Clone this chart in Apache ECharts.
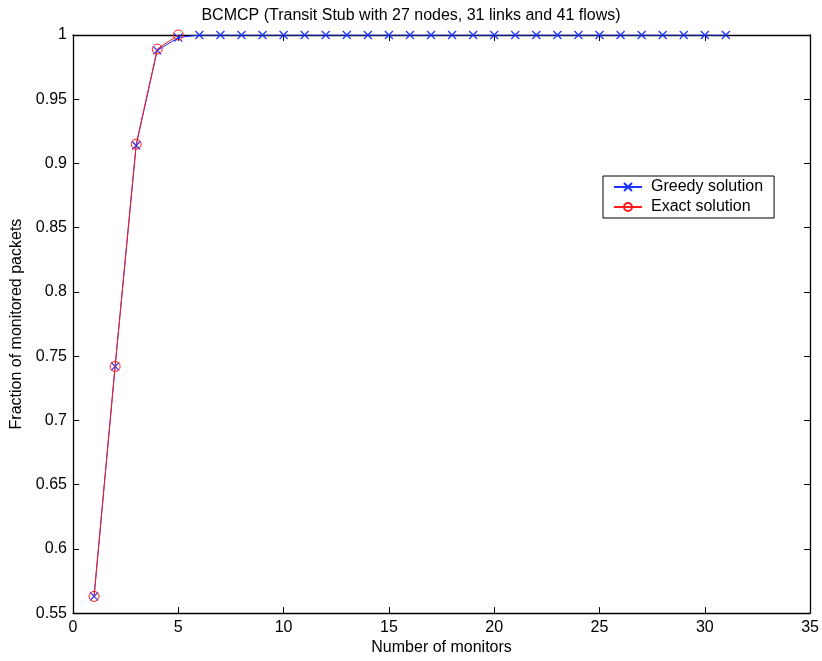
<!DOCTYPE html>
<html><head><meta charset="utf-8">
<script src="https://cdn.jsdelivr.net/npm/echarts@6/dist/echarts.min.js"></script>
<style>html,body{margin:0;padding:0;background:#fff;overflow:hidden}#c{width:822px;height:661px}</style>
</head><body><div id="c"></div>
<script>
const greedyX = [1,2,3,4,5,6,7,8,9,10,11,12,13,14,15,16,17,18,19,20,21,22,23,24,25,26,27,28,29,30,31];
const greedyY = [0.563,0.742,0.914,0.988,0.998,1,1,1,1,1,1,1,1,1,1,1,1,1,1,1,1,1,1,1,1,1,1,1,1,1,1];
const exactX = [1,2,3,4,5];
const exactY = [0.563,0.742,0.915,0.989,1.0];
const title = 'BCMCP (Transit Stub with 27 nodes, 31 links and 41 flows)';
const xName = 'Number of monitors';
const yName = 'Fraction of monitored packets';

const FONT = 'Liberation Sans, Arial, Helvetica, sans-serif';
const FS = 16;
const chart = echarts.init(document.getElementById('c'), null, {width:822, height:661});
const xMark = 'path://M0,0L10,10M10,0L0,10';
const axisCommon = {
  axisLine:{show:true,onZero:false,lineStyle:{color:'#000',width:1.3}},
  axisTick:{show:true,inside:true,length:6,lineStyle:{color:'#000'}},
  splitLine:{show:false}
};
chart.setOption({
  animation:false,
  backgroundColor:'#fff',
  title:{text:title,left:'center',top:3,textStyle:{fontFamily:FONT,fontSize:FS,fontWeight:'normal',color:'#000'}},
  grid:{left:73,right:9,top:35,bottom:42,containLabel:false},
  legend:{
    orient:'vertical',left:603,top:176,itemGap:4,itemWidth:28,itemHeight:10,
    borderColor:'#000',borderWidth:1,padding:[3,11,3,10],backgroundColor:'#fff',
    textStyle:{fontFamily:FONT,fontSize:FS,color:'#000',padding:[0,0,0,4]},
    data:['Greedy solution','Exact solution']
  },
  xAxis:[
    Object.assign({type:'value',min:0,max:35,interval:5,name:xName,nameLocation:'middle',nameGap:24,
      nameTextStyle:{fontFamily:FONT,fontSize:FS,color:'#000'},
      axisLabel:{fontFamily:FONT,fontSize:FS,color:'#000',margin:6}},axisCommon),
    Object.assign({type:'value',position:'top',min:0,max:35,interval:5,axisLabel:{show:false}},axisCommon)
  ],
  yAxis:[
    Object.assign({type:'value',min:0.55,max:1,interval:0.05,name:yName,nameLocation:'middle',nameGap:46,
      nameTextStyle:{fontFamily:FONT,fontSize:FS,color:'#000'},
      axisLabel:{fontFamily:FONT,fontSize:FS,color:'#000',margin:6,formatter:v=>String(+v.toFixed(2))}},axisCommon),
    Object.assign({type:'value',position:'right',min:0.55,max:1,interval:0.05,axisLabel:{show:false}},axisCommon)
  ],
  series:[
    {name:'Greedy solution',type:'line',data:greedyX.map((x,i)=>[x,greedyY[i]]),
      symbol:xMark,symbolSize:8,showAllSymbol:true,
      lineStyle:{color:'#1a33ff',width:1},
      itemStyle:{color:'none',borderColor:'#1a33ff',borderWidth:1.2},z:3},
    {name:'Exact solution',type:'line',data:exactX.map((x,i)=>[x,exactY[i]]),
      symbol:'circle',symbolSize:10,showAllSymbol:true,
      lineStyle:{color:'#ff1a1a',width:1},
      itemStyle:{color:'none',borderColor:'#ff1a1a',borderWidth:1},z:4}
  ]
});
</script></body></html>
